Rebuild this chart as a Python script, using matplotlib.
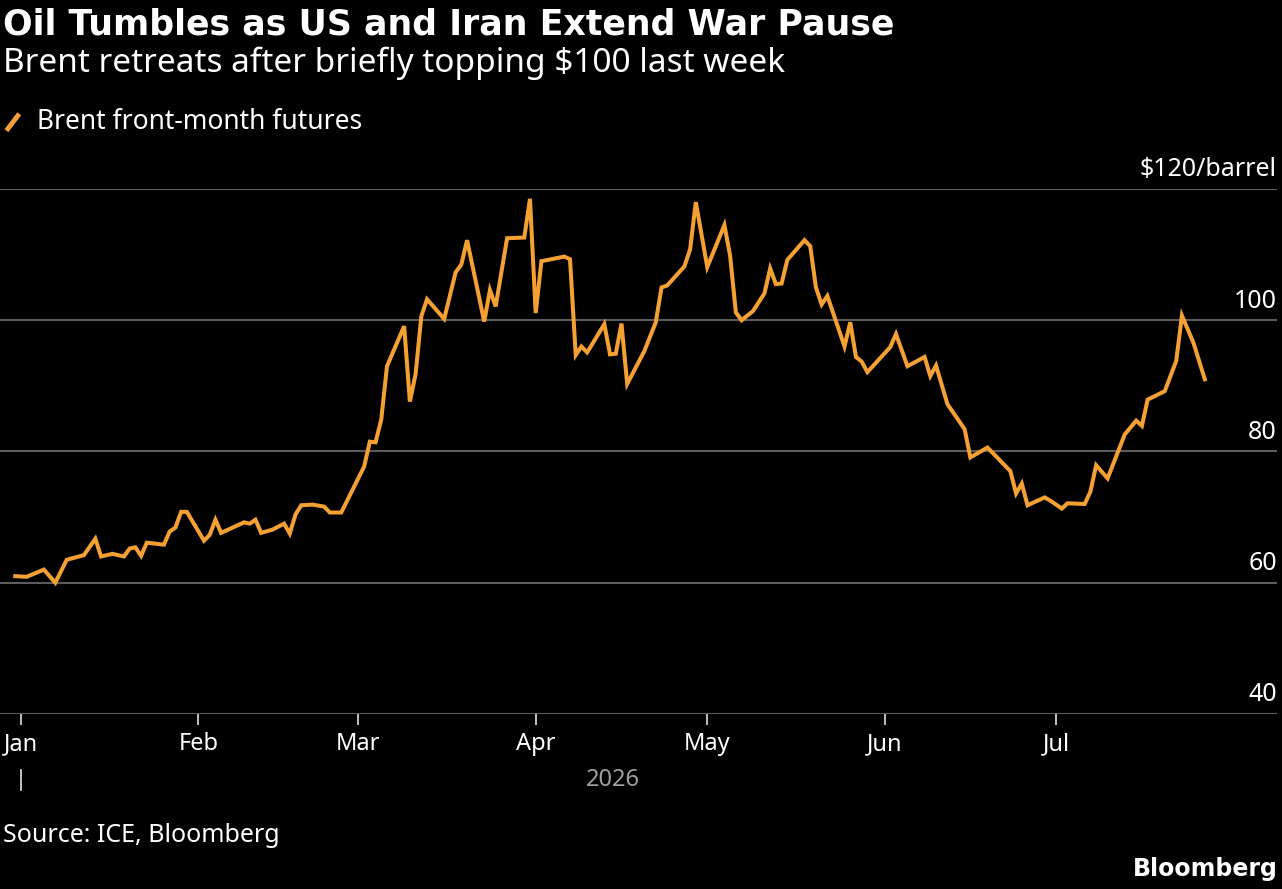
import matplotlib
matplotlib.use("Agg")
import matplotlib.pyplot as plt
import matplotlib.dates as mdates
import pandas as pd

# Brent front-month (days after 1 Jan 2026, $/barrel)
day_offsets = [-1, 1, 4, 6, 8, 11, 13, 14, 16, 18, 19, 20, 21, 22, 25, 26, 27, 28, 29,
               32, 33, 34, 35, 37, 39, 40, 41, 42, 44, 46, 47, 48, 49, 51, 53, 54, 56,
               60, 61, 62, 63, 64, 67, 68, 69, 70, 71, 74, 76, 77, 78, 81, 82, 83, 85,
               88, 89, 90, 91, 95, 96, 97, 98, 99, 102, 103, 104, 105, 106, 109, 111,
               112, 113, 116, 117, 118, 120, 123, 124, 125, 126, 128, 130, 131, 132,
               133, 134, 137, 138, 139, 140, 141, 144, 145, 146, 147, 148, 152, 153,
               155, 158, 159, 160, 162, 165, 166, 169, 173, 174, 175, 176, 179, 180,
               182, 183, 186, 187, 188, 190, 193, 195, 196, 197, 200, 201, 202, 203,
               205, 207]
brent = [61.0, 60.9, 62.0, 60.0, 63.5, 64.2, 66.7, 64.0, 64.4, 64.0, 65.2, 65.4, 64.1,
         66.1, 65.8, 67.8, 68.4, 70.8, 70.8,
         66.4, 67.3, 69.6, 67.6, 68.4, 69.2, 69.0, 69.6, 67.6, 68.1, 69.0, 67.5, 70.4,
         71.8, 71.9, 71.6, 70.7, 70.7,
         77.7, 81.5, 81.4, 84.9, 93.0, 99.1, 87.6, 91.8, 100.6, 103.2, 100.2, 107.3,
         108.5, 112.2, 99.8, 104.6, 102.1, 112.5,
         112.6, 118.5, 101.1, 109.0, 109.7, 109.3, 94.7, 96.0, 95.1, 99.4, 94.8, 94.9,
         99.5, 90.3, 95.3, 99.7,
         105.0, 105.3, 108.2, 110.8, 118.0, 108.1, 114.5, 109.8, 101.2, 100.0, 101.4,
         104.1, 107.9, 105.5,
         105.6, 109.2, 112.2, 111.3, 105.0, 102.4, 103.7, 96.0, 99.7, 94.4, 93.7, 92.1,
         95.9, 97.9,
         93.0, 94.4, 91.5, 93.1, 87.2, 83.4, 79.1, 80.6, 77.0, 73.6, 75.1, 71.8, 73.0,
         72.5,
         71.3, 72.1, 72.0, 73.9, 77.9, 75.9, 82.6, 84.7, 83.9, 87.9, 89.2, 91.5, 93.8,
         100.7,
         96.6, 91.0]

month_labels = ["Jan", "Feb", "Mar", "Apr", "May", "Jun", "Jul"]
y_ticks = [40, 60, 80, 100, 120]
y_labels = ["40", "60", "80", "100", "$120/barrel"]

orange = "#f5a033"
grid_col = "#5c5c5c"
txt_font = ["Noto Sans", "DejaVu Sans"]

start = pd.Timestamp("2026-01-01")
dates = start + pd.to_timedelta(day_offsets, unit="D")

fig = plt.figure(figsize=(12.82, 8.89), dpi=100, facecolor="black")
ax = fig.add_axes([0, 0.1969, 0.996, 0.5905], facecolor="black")

ax.plot(dates, brent, color=orange, lw=2.9, solid_joinstyle="miter", zorder=3)

ax.set_ylim(40, 120)
ax.set_xlim(mdates.date2num(start - pd.Timedelta(days=3.67)),
            mdates.date2num(start + pd.Timedelta(days=219.6)))

for s in ax.spines.values():
    s.set_visible(False)
for v in y_ticks:
    ax.axhline(v, color=grid_col, lw=1.5, zorder=1)

ytr = ax.get_yaxis_transform()
for v, lab in zip(y_ticks, y_labels):
    ax.text(1.0, v + 1.0, lab, transform=ytr, ha="right", va="bottom",
            color="white", fontsize=18, family=txt_font)
ax.set_yticks([])

month_starts = [start + pd.DateOffset(months=i) for i in range(len(month_labels))]
ax.set_xticks(month_starts)
ax.set_xticklabels(month_labels)
ax.tick_params(axis="x", colors="#e0e0e0", length=8, width=1.2, pad=5,
               labelsize=17, labelcolor="white")
for t in ax.get_xticklabels():
    t.set_family(txt_font)

xtr = ax.get_xaxis_transform()
ax.plot([month_starts[0], month_starts[0]], [-0.107, -0.145], transform=xtr,
        color="#e0e0e0", lw=1.2, clip_on=False)
ax.text(mdates.date2num(start + pd.Timedelta(days=103.5)), -0.103, "2026",
        transform=xtr, ha="center", va="top", color="#a0a0a0", fontsize=17,
        family=txt_font)

fig.text(0.002, 0.992, "Oil Tumbles as US and Iran Extend War Pause", ha="left",
         va="top", color="white", fontsize=25, fontweight="bold",
         family=["DejaVu Sans"])
fig.text(0.002, 0.948, "Brent retreats after briefly topping $100 last week",
         ha="left", va="top", color="white", fontsize=24, family=txt_font)

fig.lines.append(plt.Line2D([0.005, 0.015], [0.853, 0.872], transform=fig.transFigure,
                            color=orange, lw=3.5, solid_capstyle="butt"))
fig.text(0.029, 0.863, "Brent front-month futures", ha="left", va="center",
         color="white", fontsize=19, family=txt_font)

fig.text(0.002, 0.06, "Source: ICE, Bloomberg", ha="left", va="center",
         color="white", fontsize=18, family=txt_font)
fig.text(0.997, 0.023, "Bloomberg", ha="right", va="center", color="white",
         fontsize=17, fontweight="bold", family=["DejaVu Sans"])

fig.savefig("out.png", dpi=100, facecolor="black")
